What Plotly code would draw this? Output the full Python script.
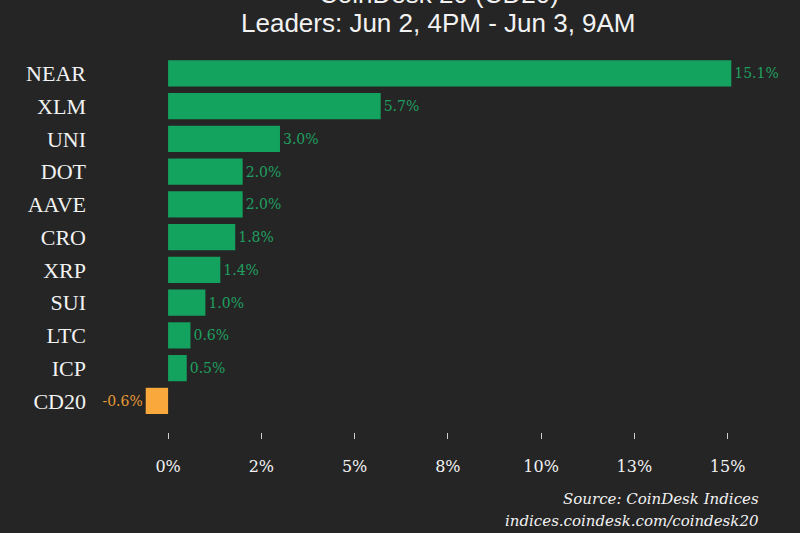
import plotly.graph_objects as go

tickers = ["NEAR", "XLM", "UNI", "DOT", "AAVE", "CRO", "XRP", "SUI", "LTC", "ICP", "CD20"]
changes = [15.1, 5.7, 3.0, 2.0, 2.0, 1.8, 1.4, 1.0, 0.6, 0.5, -0.6]
tick_values = [0, 2.5, 5, 7.5, 10, 12.5, 15]
tick_labels = ["0%", "2%", "5%", "8%", "10%", "13%", "15%"]
title_lines = ["CoinDesk 20 (CD20)", "Leaders: Jun 2, 4PM - Jun 3, 9AM"]
footer_lines = ["Source: CoinDesk Indices", "indices.coindesk.com/coindesk20"]

BG = "#252525"
GREEN = "#13a35f"
ORANGE = "#f9a93b"
GREEN_TXT = "#1fa060"
ORANGE_TXT = "#e89a35"

colors = [GREEN if v >= 0 else ORANGE for v in changes]
txt_colors = [GREEN_TXT if v >= 0 else ORANGE_TXT for v in changes]
labels = [f"{v:.1f}%" for v in changes]

W, H = 800, 533
ML, MR, MT, MB = 92, 15, 57, 101
plot_l, plot_r = ML, W - MR
plot_t, plot_b = MT, H - MB


def px_to_paper(px, py):
    return (px - plot_l) / (plot_r - plot_l), (plot_b - py) / (plot_b - plot_t)


fig = go.Figure(go.Bar(
    x=changes,
    y=tickers,
    orientation="h",
    marker=dict(color=colors, line=dict(width=0)),
    text=labels,
    textposition="outside",
    textfont=dict(family="DejaVu Serif, Liberation Serif, serif", size=14, color=txt_colors),
    cliponaxis=False,
    hoverinfo="skip",
))

annotations = []
title_font = dict(family="Liberation Sans, Arial, sans-serif", size=26, color="#f2f2f2")
for txt, py in zip(title_lines, [-6, 23]):
    ax, ay = px_to_paper((plot_l + plot_r) / 2, py)
    annotations.append(dict(text=txt, x=ax, y=ay, xref="paper", yref="paper",
                            xanchor="center", yanchor="middle", showarrow=False,
                            font=title_font))
foot_font = dict(family="DejaVu Serif, Liberation Serif, serif", size=15, color="#f2f2f2")
for txt, py in zip(footer_lines, [499, 521]):
    ax, ay = px_to_paper(761, py)
    annotations.append(dict(text=f"<i>{txt}</i>", x=ax, y=ay, xref="paper", yref="paper",
                            xanchor="right", yanchor="middle", showarrow=False,
                            font=foot_font))

fig.update_layout(
    width=W, height=H,
    paper_bgcolor=BG, plot_bgcolor=BG,
    margin=dict(l=ML, r=MR, t=MT, b=MB),
    bargap=0.2,
    showlegend=False,
    xaxis=dict(
        range=[-2.04, 16.54],
        tickvals=tick_values, ticktext=tick_labels,
        showgrid=False, zeroline=False, showline=False,
        ticks="outside", ticklen=6, tickwidth=1, tickcolor="#cfcfcf",
        ticklabelstandoff=14,
        tickfont=dict(family="DejaVu Serif, Liberation Serif, serif", size=16, color="#f2f2f2"),
    ),
    yaxis=dict(
        categoryorder="array", categoryarray=tickers,
        range=[10.95, -0.5],
        showgrid=False, zeroline=False, showline=False,
        ticks="", ticklabelstandoff=5,
        tickfont=dict(family="Liberation Serif, DejaVu Serif, serif", size=22, color="#f2f2f2"),
    ),
    annotations=annotations,
)

fig.write_html("out.html")
